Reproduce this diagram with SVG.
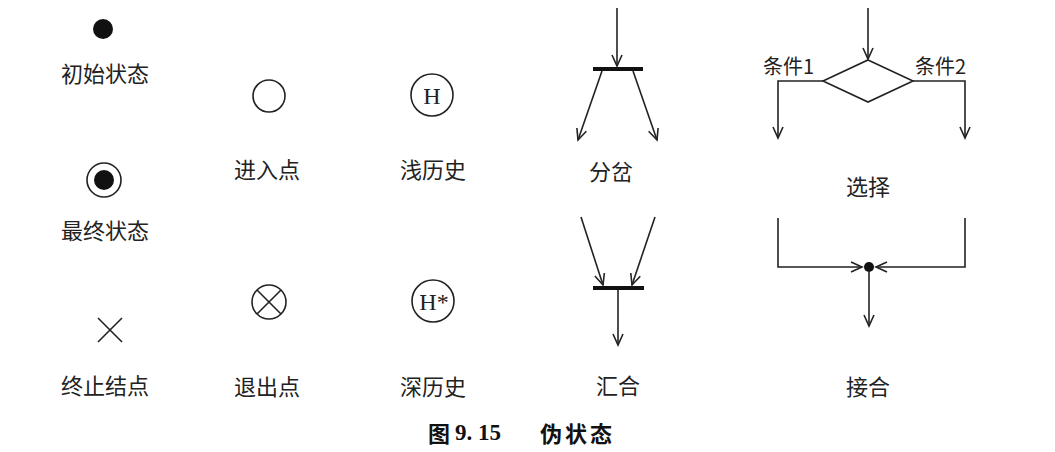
<svg xmlns="http://www.w3.org/2000/svg" width="1055" height="452" viewBox="0 0 1055 452">
<style>
.lbl{font-family:"Noto Sans CJK SC","Liberation Serif",serif;font-size:22px;fill:#222;text-anchor:middle;dominant-baseline:central}
.cond{font-family:"Noto Sans CJK SC","Liberation Serif",serif;font-size:20px;fill:#222;dominant-baseline:central}
.ln{fill:none;stroke:#222;stroke-width:1.6}
.hs{font-family:"Liberation Serif",serif;font-size:24px;fill:#222;text-anchor:middle;dominant-baseline:central}
.cap{font-family:"Liberation Serif","Noto Sans CJK SC",serif;font-size:23px;font-weight:bold;fill:#111;dominant-baseline:central}
.capc{font-family:"Noto Sans CJK SC",sans-serif;font-size:22px;font-weight:bold;fill:#111;dominant-baseline:central}
</style>
<defs>
<marker id="arr" markerWidth="14" markerHeight="14" refX="12" refY="6" orient="auto" markerUnits="userSpaceOnUse">
<path d="M1,1 L12,6 L1,11" fill="none" stroke="#222" stroke-width="1.6"/>
</marker>
</defs>
<rect width="1055" height="452" fill="#fff"/>

<g id="initial"><circle cx="103" cy="29" r="10" fill="#111"/><text class="lbl" x="105" y="72">初始状态</text></g>
<g id="final"><circle cx="104" cy="180" r="17" fill="none" stroke="#222" stroke-width="1.6"/><circle cx="104" cy="180" r="10" fill="#111"/><text class="lbl" x="105" y="229">最终状态</text></g>
<g id="terminate"><path class="ln" d="M98,318 L122,342 M122,318 L98,342"/><text class="lbl" x="105" y="384">终止结点</text></g>

<g id="entry"><circle cx="269" cy="96" r="16" class="ln"/><text class="lbl" x="267" y="168">进入点</text></g>
<g id="exit"><circle cx="269" cy="302" r="17" class="ln"/><path class="ln" d="M257,290 L281,314 M281,290 L257,314"/><text class="lbl" x="267" y="385">退出点</text></g>

<g id="shallow"><circle cx="432" cy="95" r="21" class="ln"/><text class="hs" x="432" y="96">H</text><text class="lbl" x="433" y="168">浅历史</text></g>
<g id="deep"><circle cx="433" cy="301" r="21" class="ln"/><text class="hs" x="434" y="302">H*</text><text class="lbl" x="433" y="385">深历史</text></g>

<g id="fork"><rect x="593" y="67" width="50" height="4" fill="#111"/><text class="lbl" x="611" y="170">分岔</text></g>
<g id="join"><rect x="593" y="286" width="51" height="4" fill="#111"/><text class="lbl" x="618" y="384">汇合</text></g>

<g id="choice"><path class="ln" d="M868,60 L913,81 L868,102 L823,81 Z"/><text class="cond" x="763" y="65">条件1</text><text class="cond" x="915" y="65">条件2</text><text class="lbl" x="868" y="185">选择</text></g>
<g id="junction"><circle cx="869" cy="267" r="5" fill="#111"/><text class="lbl" x="868" y="385">接合</text></g>

<g id="connectors">
<line class="ln" x1="617" y1="8" x2="617" y2="66" marker-end="url(#arr)"/>
<line class="ln" x1="602" y1="71" x2="578" y2="140" marker-end="url(#arr)"/>
<line class="ln" x1="633" y1="71" x2="657" y2="140" marker-end="url(#arr)"/>
<line class="ln" x1="581" y1="217" x2="603" y2="285" marker-end="url(#arr)"/>
<line class="ln" x1="655" y1="217" x2="632" y2="285" marker-end="url(#arr)"/>
<line class="ln" x1="618" y1="290" x2="618" y2="345" marker-end="url(#arr)"/>
<line class="ln" x1="868" y1="8" x2="868" y2="59" marker-end="url(#arr)"/>
<polyline class="ln" points="823,81 778,81 778,138" marker-end="url(#arr)"/>
<polyline class="ln" points="913,81 965,81 965,138" marker-end="url(#arr)"/>
<polyline class="ln" points="778,218 778,267 862,267" marker-end="url(#arr)"/>
<polyline class="ln" points="965,218 965,267 876,267" marker-end="url(#arr)"/>
<line class="ln" x1="869" y1="272" x2="869" y2="326" marker-end="url(#arr)"/>
</g>

<g id="caption"><text class="capc" x="428" y="432">图</text><text class="cap" x="455" y="432">9. 15</text><text class="capc" x="540" y="432" letter-spacing="3">伪状态</text></g>
</svg>
